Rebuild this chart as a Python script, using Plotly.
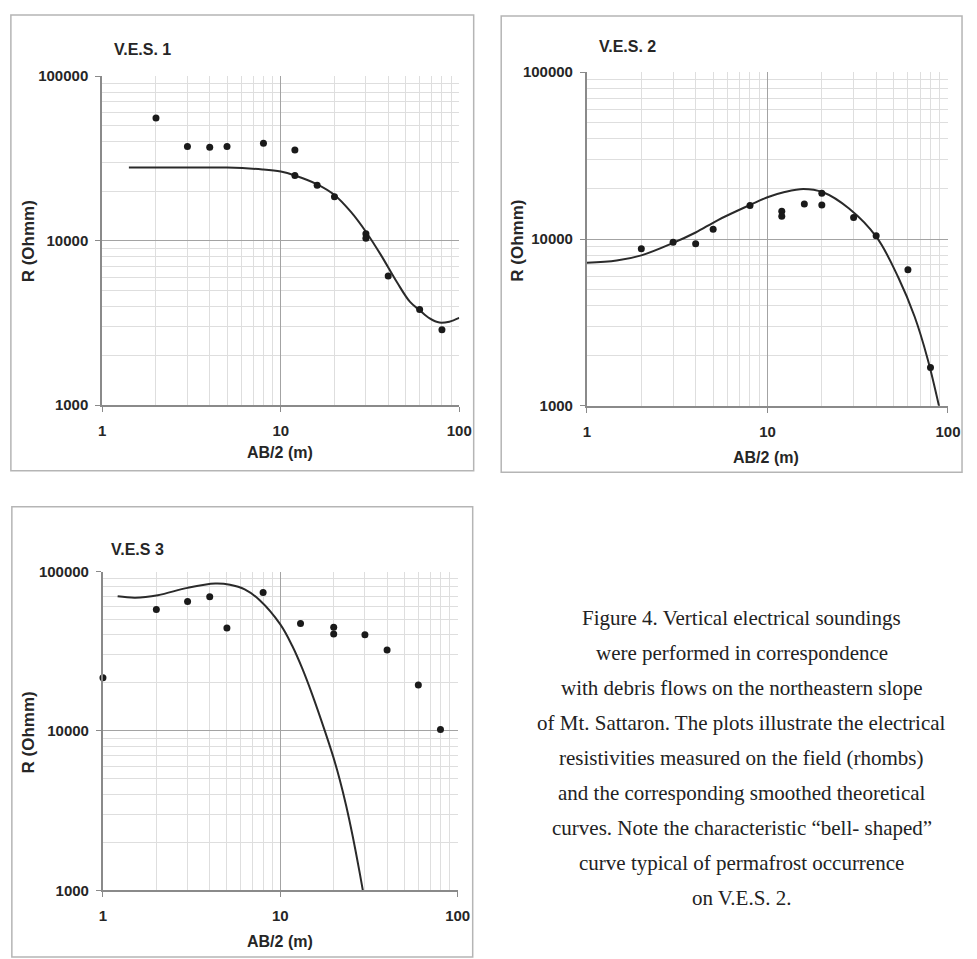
import plotly.graph_objects as go

W, H = 977, 959

# ---- V.E.S. 1 ----
ves1_x = [2, 3, 4, 5, 8, 12, 12, 16, 20, 30, 30, 40, 60, 80]
ves1_r = [55600, 37300, 37000, 37300, 39000, 35600, 24900, 21700, 18500, 11000, 10350, 6100, 3810, 2870]
ves1_fit_x = [1.41, 3, 5, 7.9, 10, 12, 16, 20, 24.8, 30, 36.3, 44.8, 53, 60, 68.3, 77.5, 88, 100]
ves1_fit_r = [27850, 27850, 27800, 27100, 26300, 24900, 22000, 18950, 14900, 11330, 8220, 5580, 4240, 3775, 3365, 3175, 3217, 3390]

# ---- V.E.S. 2 ----
ves2_x = [2, 3, 4, 5, 8, 12, 12, 16, 20, 20, 30, 40, 60, 80]
ves2_r = [8730, 9550, 9380, 11450, 15900, 14680, 13710, 16200, 18800, 16000, 13460, 10450, 6540, 1695]
ves2_fit_x = [1, 1.46, 2, 3, 4, 5.32, 8.08, 10, 12.3, 15.8, 20.3, 28.3, 40.3, 53, 65.3, 77.2, 89.3]
ves2_fit_r = [7200, 7425, 7980, 9475, 10940, 12990, 16070, 17800, 19050, 19950, 19050, 15220, 10220, 5900, 3430, 1905, 991]

# ---- V.E.S 3 ----
ves3_x = [1, 2, 3, 4, 5, 8, 13, 20, 20, 30, 40, 60, 80]
ves3_r = [21600, 57800, 65000, 69500, 44200, 73900, 47200, 44800, 40600, 40200, 32200, 19400, 10200]
ves3_fit_x = [1.21, 1.52, 2.04, 3.0, 4.3, 5.2, 6.3, 7.63, 10.0, 11.67, 13.26, 15.07, 18.0,
              19.87, 21.6, 23.5, 25.6, 27.9, 29.2]
ves3_fit_r = [70000, 68600, 71100, 79000, 84000, 82600, 77300, 66300, 46600, 34230, 24860, 17160, 9700,
              6900, 4985, 3410, 2187, 1327, 1000]

panel_titles = ["V.E.S. 1", "V.E.S. 2", "V.E.S 3"]
x_title = "AB/2 (m)"
y_title = "R (Ohmm)"
x_ticks = [1, 10, 100]
y_ticks = [1000, 10000, 100000]

caption_lines = [
    "Figure 4. Vertical electrical soundings",
    "were performed in correspondence",
    "with debris flows on the northeastern slope",
    "of Mt. Sattaron. The plots illustrate the electrical",
    "resistivities measured on the field (rhombs)",
    "and the corresponding smoothed theoretical",
    "curves. Note the characteristic \u201cbell- shaped\u201d",
    "curve typical of permafrost occurrence",
    "on V.E.S. 2.",
]

SANS = "Liberation Sans, Arial, sans-serif"
SERIF = "Liberation Serif, Times New Roman, serif"
TXT = "#262626"


def px(x):
    return x / W


def py(y):
    return 1 - y / H


# plot-area boxes in pixels: (left, top, right, bottom)
areas = [
    (100.0, 68.3, 463.3, 403.3),
    (593.3, 64.3, 960.7, 404.0),
    (100.7, 572.7, 461.7, 897.3),
]
# outer frames of each chart
frames = [
    (7, 6, 478, 470),
    (506, 7, 975, 471.7),
    (8, 506.7, 477, 965),
]

minor_x = [2, 3, 4, 5, 6, 7, 8, 9, 20, 30, 40, 50, 60, 70, 80, 90]
minor_y = [v * 1000 for v in range(2, 10)] + [v * 10000 for v in range(2, 10)]

tick_font = dict(family=SANS, size=15, color=TXT, weight="bold")

fig = go.Figure()
layout = dict(
    width=W, height=H,
    margin=dict(l=0, r=0, t=0, b=0),
    paper_bgcolor="white", plot_bgcolor="white",
    showlegend=False,
    shapes=[], annotations=[],
)

series = [
    (ves1_x, ves1_r, ves1_fit_x, ves1_fit_r),
    (ves2_x, ves2_r, ves2_fit_x, ves2_fit_r),
    (ves3_x, ves3_r, ves3_fit_x, ves3_fit_r),
]

for i, ((l, t, r, b), (mx, mr, fx, fr)) in enumerate(zip(areas, series)):
    n = "" if i == 0 else str(i + 1)
    xa, ya = "x" + n, "y" + n
    layout["xaxis" + n] = dict(
        type="log", range=[0, 2], domain=[px(l), px(r)], anchor=ya,
        tickmode="array", tickvals=x_ticks, ticktext=[str(v) for v in x_ticks],
        tickfont=tick_font, ticks="outside", ticklen=5, tickcolor="#8a8a8a",
        ticklabelstandoff=6,
        showline=True, linecolor="#8a8a8a", linewidth=2,
        showgrid=True, gridcolor="#a3a3a3", gridwidth=1.3,
        minor=dict(tickmode="array", tickvals=minor_x, showgrid=True,
                   gridcolor="#dedede", gridwidth=1, ticks=""),
        zeroline=False, fixedrange=True,
    )
    layout["yaxis" + n] = dict(
        type="log", range=[3, 5], domain=[py(b), py(t)], anchor=xa,
        tickmode="array", tickvals=y_ticks, ticktext=[str(v) for v in y_ticks],
        tickfont=tick_font, ticks="outside", ticklen=5, tickcolor="#8a8a8a",
        ticklabelstandoff=4,
        showline=True, linecolor="#8a8a8a", linewidth=2,
        showgrid=True, gridcolor="#a3a3a3", gridwidth=1.3,
        minor=dict(tickmode="array", tickvals=minor_y, showgrid=True,
                   gridcolor="#dedede", gridwidth=1, ticks=""),
        zeroline=False, fixedrange=True,
    )
    # theoretical smoothed curve
    fig.add_trace(go.Scatter(
        x=fx, y=fr, mode="lines",
        line=dict(color="#2a2a2a", width=2, shape="spline", smoothing=1.0),
        xaxis=xa, yaxis=ya, hoverinfo="skip",
    ))
    # field measurements
    fig.add_trace(go.Scatter(
        x=mx, y=mr, mode="markers", marker=dict(color="#1a1a1a", size=7, symbol="circle"),
        xaxis=xa, yaxis=ya, cliponaxis=False,
    ))

# chart frames
for (l, t, r, b) in frames:
    layout["shapes"].append(dict(
        type="rect", xref="paper", yref="paper",
        x0=px(l), x1=px(r), y0=py(b), y1=py(t),
        line=dict(color="#b5b5b5", width=1.5), layer="below",
    ))

# titles and axis labels
title_pos = [(110, 41.7), (603, 37.7), (107, 550)]
xlab_pos = [(281, 452), (776, 457), (281, 949)]
ylab_pos = [(25, 237), (523, 236), (25, 737)]
for (tx, ty), (xx, xy), (yx, yy), title in zip(title_pos, xlab_pos, ylab_pos, panel_titles):
    layout["annotations"].append(dict(
        text=title, x=px(tx), y=py(ty), xref="paper", yref="paper",
        xanchor="left", yanchor="middle", showarrow=False,
        font=dict(family=SANS, size=16, color=TXT, weight="bold"),
    ))
    layout["annotations"].append(dict(
        text=x_title, x=px(xx), y=py(xy), xref="paper", yref="paper",
        xanchor="center", yanchor="middle", showarrow=False,
        font=dict(family=SANS, size=16, color=TXT, weight="bold"),
    ))
    layout["annotations"].append(dict(
        text=y_title, x=px(yx), y=py(yy), xref="paper", yref="paper",
        xanchor="center", yanchor="middle", showarrow=False, textangle=-90,
        font=dict(family=SANS, size=17, color=TXT, weight="bold"),
    ))

# figure caption
for k, line in enumerate(caption_lines):
    layout["annotations"].append(dict(
        text=line, x=px(751), y=py(620 + 35.6 * k), xref="paper", yref="paper",
        xanchor="center", yanchor="middle", showarrow=False,
        font=dict(family=SERIF, size=21, color="#222222"),
    ))

fig.update_layout(**layout)
fig.write_html("out.html")
